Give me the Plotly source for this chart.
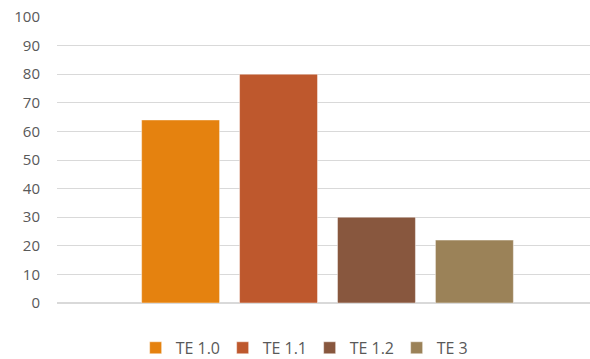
import plotly.graph_objects as go

# Series names, values and fill colours
series = ["TE 1.0", "TE 1.1", "TE 1.2", "TE 3"]
values = [64, 80, 30, 22]
colors = ["#E5820F", "#BE582D", "#88573E", "#9B8258"]
category = [""]

y_ticks = list(range(0, 101, 10))

fig = go.Figure()
for name, val, col in zip(series, values, colors):
    fig.add_trace(go.Bar(
        x=category, y=[val], name=name,
        marker=dict(color=col, line=dict(color="rgba(255,255,255,0.45)", width=1)),
        hoverinfo="skip",
    ))

fig.update_layout(
    width=590, height=359,
    margin=dict(l=57, r=0, t=17, b=56, autoexpand=False),
    paper_bgcolor="white", plot_bgcolor="white",
    barmode="group", bargap=0.265, bargroupgap=0.204,
    font=dict(family="Open Sans, Liberation Sans, sans-serif", color="#595959", size=15),
    showlegend=True,
    legend=dict(
        orientation="h", x=0.474, xanchor="center",
        yref="container", y=0.031, yanchor="middle",
        font=dict(size=16, color="#595959"), itemwidth=30, entrywidth=42,
        traceorder="normal",
    ),
    xaxis=dict(range=[-0.5075, 0.4925], showticklabels=False, showgrid=False,
               zeroline=False, showline=False, fixedrange=True),
    yaxis=dict(range=[0, 100], tickvals=y_ticks, showgrid=True, gridcolor="#D9D9D9",
               gridwidth=1, zeroline=True, zerolinecolor="#D9D9D9", showline=False,
               ticks="", ticklabelstandoff=16, tickfont=dict(size=15, color="#595959")),
)

fig.write_html("out.html")
